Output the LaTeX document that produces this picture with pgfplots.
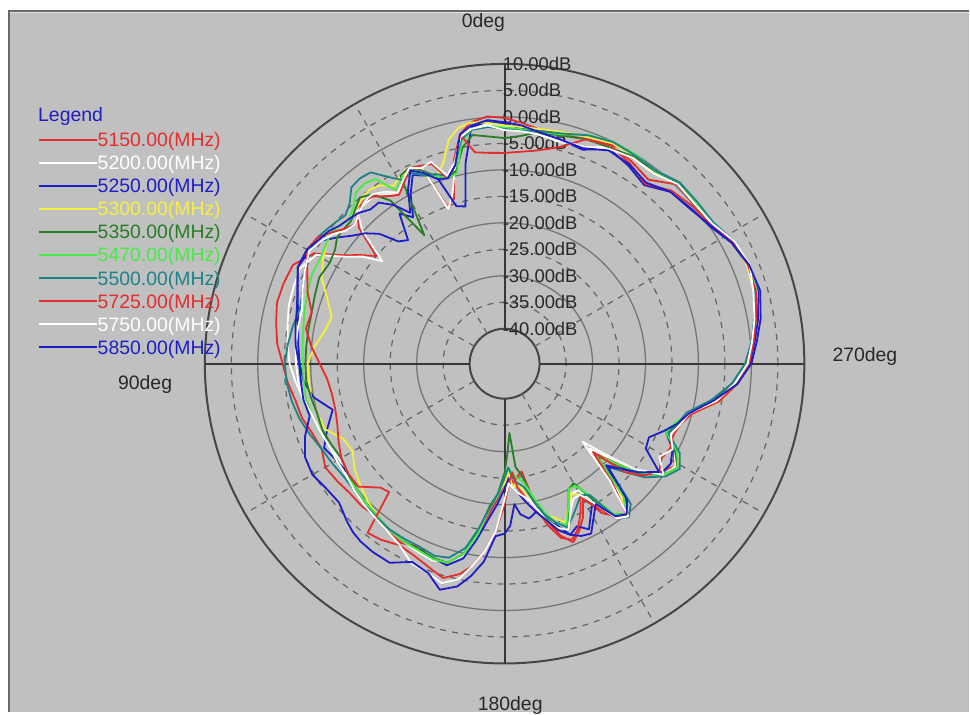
\documentclass[border=0pt]{standalone}
\usepackage{fontspec}
\setmainfont{Liberation Sans}
\usepackage{pgfplots}
\usepackage{pgfplotstable}
\pgfplotsset{compat=1.18}
\definecolor{cR}{RGB}{228,45,45}
\definecolor{cW}{RGB}{255,255,255}
\definecolor{cB}{RGB}{30,30,200}
\definecolor{cY}{RGB}{245,240,60}
\definecolor{cDG}{RGB}{40,125,40}
\definecolor{cG}{RGB}{70,235,70}
\definecolor{cT}{RGB}{30,130,135}
\definecolor{bg}{RGB}{192,192,192}
\definecolor{cRing}{RGB}{118,118,118}
\definecolor{cDash}{RGB}{100,100,100}
\definecolor{cOuter}{RGB}{70,70,70}
\definecolor{cAxis}{RGB}{55,55,55}
\definecolor{cTxt}{RGB}{40,40,40}
\definecolor{cLeg}{RGB}{30,30,190}
\definecolor{cFrameD}{RGB}{105,105,105}
\definecolor{cFrameL}{RGB}{228,228,228}

% angle (deg, counter-clockwise from top) and gain in dB for each frequency
\pgfplotstableread{
a   s1    s2    s3    s4    s5    s6    s7    s8    s9    s10
0   -0.2  -1.8  -1.3  -1.6  -4.0  -2.0  -2.3  -6.8  -2.5  -1.0
4    0.2  -1.2  -0.8  -1.0  -3.6  -1.5  -1.8  -6.7  -1.5  -0.5
8   -0.6  -1.5  -1.5  -0.6  -3.0  -2.0  -2.0  -6.3  -1.8  -1.2
11  -2.5  -3.0  -8.0  -1.2  -5.0  -4.0  -3.5  -2.5  -3.0  -2.5
14  -7.0  -8.0  -16.0 -3.0  -9.0  -9.5  -8.0  -8.0  -7.5  -8.0
17  -14.0 -13.0 -15.5 -7.0  -10.0 -10.0 -9.5  -10.0 -9.5  -10.0
20  -15.0 -15.5 -9.0  -9.0  -9.0  -9.0  -8.5  -6.5  -6.0  -9.5
23  -6.0  -6.0  -8.0  -8.0  -7.0  -8.0  -8.0  -6.0  -6.5  -7.5
26  -5.5  -5.5  -7.0  -6.0  -5.5  -6.0  -6.5  -5.5  -5.5  -6.0
29  -7.0  -7.0  -10.0 -6.0  -6.0  -6.5  -7.0  -7.5  -7.0  -9.0
32  -9.0  -9.0  -14.0 -7.0  -18.0 -8.0  -5.0  -9.0  -8.5  -13.0
35  -8.0  -7.5  -12.0 -5.5  -9.0  -4.0  -2.5  -8.0  -7.0  -10.0
38  -6.5  -6.5  -17.0 -5.0  -6.0  -3.5  -2.2  -6.5  -6.0  -8.0
41  -6.0  -6.5  -16.0 -5.5  -5.0  -3.8  -2.5  -6.0  -6.2  -8.0
44  -6.5  -6.5  -12.5 -6.0  -6.0  -5.5  -4.5  -7.0  -7.0  -7.0
47  -9.0  -10.0 -10.5 -6.5  -7.0  -6.5  -5.5  -8.0  -8.0  -6.5
50  -15.0 -16.5 -9.0  -6.0  -7.0  -6.0  -5.0  -7.0  -7.5  -6.0
53  -12.5 -13.0 -7.0  -5.5  -7.0  -5.5  -4.5  -5.5  -6.0  -5.0
56  -10.0 -10.5 -5.0  -6.0  -8.0  -6.0  -4.0  -4.0  -5.0  -4.5
60  -5.0  -5.5  -4.0  -7.0  -8.5  -6.5  -4.0  -3.5  -4.0  -3.5
65  -2.5  -4.0  -3.5  -8.5  -8.0  -6.5  -5.0  -5.5  -5.0  -3.5
70  -2.2  -4.2  -5.0  -11.0 -8.5  -7.0  -6.0  -7.0  -6.0  -5.0
75  -2.1  -4.4  -6.2  -12.8 -8.9  -7.5  -6.6  -8.9  -7.0  -6.0
80  -2.8  -5.0  -7.0  -12.0 -9.0  -8.0  -6.0  -8.5  -7.0  -6.5
85  -3.5  -5.5  -7.5  -10.5 -9.0  -8.3  -5.5  -10.0 -7.0  -7.0
90  -4.7  -6.0  -7.9  -9.4  -9.0  -8.5  -5.1  -11.7 -7.2  -7.8
95  -5.5  -7.0  -8.5  -9.5  -9.0  -8.5  -5.3  -13.0 -7.5  -8.0
100 -6.5  -8.0  -10.0 -9.5  -9.5  -8.5  -5.8  -13.5 -8.0  -8.0
105 -7.0  -9.0  -13.0 -10.0 -10.0 -9.0  -6.5  -13.5 -9.0  -8.5
110 -8.0  -9.5  -11.0 -10.5 -10.0 -9.5  -7.5  -13.0 -9.5  -6.5
115 -8.5  -10.0 -9.0  -13.0 -10.5 -10.0 -8.5  -12.0 -10.0 -5.0
120 -7.5  -10.5 -10.0 -13.5 -11.0 -10.0 -9.0  -11.0 -10.0 -4.7
125 -8.0  -10.0 -10.5 -12.0 -10.5 -10.0 -9.5  -10.5 -10.0 -5.5
130 -8.5  -10.0 -10.0 -11.0 -10.0 -10.0 -9.5  -10.5 -9.5  -5.8
135 -8.5  -9.5  -9.5  -10.0 -9.5  -9.5  -9.0  -13.5 -9.0  -4.5
138 -8.8  -9.3  -9.3  -9.5  -9.3  -9.3  -9.0  -14.0 -8.8  -3.8
141 -8.5  -9.0  -9.0  -9.0  -9.0  -9.0  -8.8  -5.5  -8.5  -3.4
145 -8.0  -8.5  -8.5  -8.5  -8.5  -8.5  -8.5  -6.0  -8.0  -3.2
150 -7.5  -8.0  -8.0  -8.0  -8.0  -8.0  -8.5  -7.0  -7.0  -3.2
155 -8.5  -7.5  -8.0  -7.8  -8.0  -7.8  -8.5  -6.5  -5.0  -5.3
160 -7.0  -7.0  -7.5  -7.5  -7.5  -7.3  -8.0  -5.5  -4.5  -4.5
164 -7.5  -7.5  -7.0  -7.5  -7.5  -7.5  -8.5  -4.5  -3.5  -2.2
168 -9.5  -9.5  -9.0  -10.0 -10.0 -10.0 -11.0 -6.0  -5.0  -3.6
171 -14.0 -14.0 -13.0 -14.0 -14.5 -14.0 -15.0 -8.0  -8.0  -6.0
174 -18.0 -19.0 -17.0 -19.0 -19.5 -19.0 -19.0 -11.0 -11.0 -9.0
177 -21.0 -22.0 -20.0 -22.0 -22.0 -21.5 -22.0 -15.0 -15.0 -14.0
180 -24.0 -25.0 -23.0 -24.0 -26.0 -25.0 -25.0 -20.0 -21.0 -14.5
182 -26.0 -27.0 -25.0 -26.0 -30.0 -27.0 -27.0 -24.0 -24.0 -16.0
184 -24.0 -25.0 -23.0 -23.0 -33.5 -26.0 -25.0 -26.0 -23.0 -20.0
186 -25.0 -24.0 -22.0 -24.0 -27.0 -25.0 -24.0 -23.0 -22.0 -18.0
189 -26.0 -22.0 -20.0 -22.0 -25.0 -24.0 -23.0 -21.0 -21.0 -17.0
192 -20.0 -19.0 -18.0 -20.0 -20.0 -21.0 -20.0 -19.0 -19.0 -18.0
195 -16.0 -16.5 -16.0 -17.0 -16.5 -17.5 -17.0 -15.0 -16.0 -16.0
198 -12.5 -15.0 -14.5 -16.0 -14.0 -15.0 -15.0 -12.0 -14.0 -13.5
201 -10.5 -13.5 -12.0 -14.5 -13.0 -14.0 -13.5 -11.0 -13.0 -12.0
204 -12.0 -16.0 -13.0 -17.0 -17.0 -17.0 -15.0 -12.5 -16.0 -11.0
207 -14.0 -19.0 -11.5 -19.0 -20.0 -20.0 -16.5 -15.0 -18.0 -10.6
210 -17.0 -19.0 -14.0 -18.0 -20.5 -20.0 -18.0 -18.0 -18.0 -13.0
213 -14.0 -16.0 -16.0 -15.0 -16.0 -17.0 -17.0 -13.0 -15.0 -15.0
216 -10.5 -11.0 -11.0 -11.0 -11.5 -11.5 -10.5 -11.0 -10.5 -11.0
219 -9.5  -9.5  -10.0 -9.8  -10.0 -10.0 -9.3  -10.0 -9.5  -10.0
222 -15.0 -15.0 -12.5 -14.0 -13.0 -13.0 -11.0 -16.0 -17.0 -12.0
225 -23.0 -24.0 -19.5 -22.0 -22.0 -22.5 -19.0 -23.0 -25.8 -19.0
228 -19.0 -20.0 -17.0 -18.0 -18.0 -18.5 -16.0 -16.0 -21.0 -17.0
231 -14.0 -15.0 -13.5 -13.5 -13.5 -14.0 -12.5 -13.0 -15.0 -14.0
235 -11.0 -10.0 -10.5 -10.0 -10.0 -10.0 -9.5  -11.0 -10.0 -11.0
239 -9.0  -9.0  -10.0 -8.5  -8.5  -8.5  -8.0  -12.0 -12.5 -15.5
243 -11.0 -10.5 -11.0 -10.0 -10.5 -10.0 -9.5  -11.5 -11.0 -16.0
247 -13.0 -13.5 -13.5 -13.5 -13.5 -13.5 -13.0 -12.0 -12.5 -14.0
251 -12.0 -12.5 -11.5 -12.0 -12.0 -12.5 -12.0 -11.5 -11.5 -12.0
255 -10.0 -10.5 -10.5 -10.0 -10.5 -10.5 -11.0 -10.0 -10.5 -10.5
260 -6.0  -6.5  -6.0  -5.5  -6.5  -6.0  -7.0  -5.5  -6.0  -6.5
265 -2.8  -3.0  -2.5  -2.5  -3.5  -3.0  -3.5  -2.5  -3.0  -2.5
270 -0.5  -0.8  -0.3  -0.5  -1.0  -0.8  -1.2  -0.4  -0.7  0.0
275 0.5   0.2   0.8   0.3   0.3   0.5   0.2   0.6   0.3   1.2
280 1.5   1.2   2.0   1.3   1.5   1.6   1.2   1.6   1.3   2.5
286 2.7   2.4   3.2   2.5   2.7   3.0   2.6   2.8   2.3   3.6
292 3.0   2.8   3.0   2.9   3.1   3.2   3.2   3.0   3.3   3.2
298 2.2   2.5   2.0   2.4   2.5   2.6   2.6   2.3   2.6   2.0
304 0.6   0.8   0.0   0.6   0.9   0.8   1.0   0.4   0.7   0.2
310 0.2   0.5   -0.8  0.4   0.6   0.7   0.9   -0.3  0.3   -1.0
316 0.4   0.8   -1.5  0.8   0.8   1.0   1.0   -1.2  0.5   -1.5
322 -2.5  -0.8  -3.8  -0.6  -0.5  -0.4  -0.3  -3.5  -1.0  -3.2
328 -1.5  -0.6  -2.5  -0.3  -0.5  0.0   -0.2  -2.0  -0.8  -2.2
334 -0.6  -1.0  -1.5  -0.3  -1.2  0.0   0.0   -0.8  -1.5  -1.8
340 -1.5  -3.2  -3.6  -1.0  -1.5  -0.6  -0.7  -1.5  -3.0  -3.3
346 -2.0  -3.5  -3.0  -1.5  -2.2  -2.0  -1.8  -4.5  -3.2  -3.0
352 -1.8  -2.8  -2.5  -1.8  -2.5  -2.3  -2.2  -6.0  -2.8  -2.3
356 -1.0  -2.3  -2.0  -1.8  -3.5  -2.2  -2.5  -6.5  -2.6  -1.5
360 -0.2  -1.8  -1.3  -1.6  -4.0  -2.0  -2.3  -6.8  -2.5  -1.0
}\pdata

\newcommand{\polplot}[3]{%
  \addplot[#1, line width=1.8bp, line join=round] table[x expr={505-(247+5.3*\thisrow{#2})*sin(\thisrow{a})},
                     y expr={-364+(247+5.3*\thisrow{#2})*cos(\thisrow{a})}] {\pdata};
  \addlegendentry{\textcolor{#1}{#3}}}

\begin{document}
\begin{tikzpicture}
\begin{axis}[
  width=970bp, height=713bp, scale only axis,
  xmin=0, xmax=970, ymin=-713, ymax=0,
  axis lines=none, clip=false, no markers,
  legend style={at={(axis cs:38,-128.2)}, anchor=north west, draw=none, fill=none,
    inner sep=0pt, outer sep=0pt, row sep=0pt,
    font=\fontsize{19.5}{23}\selectfont,
    nodes={inner sep=0pt, text height=18.5bp, text depth=4.6bp},
    cells={anchor=west}},
  legend image code/.code={\draw[#1, line width=1.8bp] (0bp,0bp) -- (58bp,0bp);},
]
% background and frame
\fill[white] (axis cs:0,0) rectangle (axis cs:970,-713);
\fill[bg] (axis cs:8,-10) rectangle (axis cs:970,-713);
\draw[cFrameD, line width=1.6bp] (axis cs:8.8,-713) -- (axis cs:8.8,-10.8) -- (axis cs:970,-10.8);
\draw[cFrameL, line width=1.2bp] (axis cs:10,-12.8) -- (axis cs:970,-12.8);
% rings
\draw[cOuter, line width=2bp] (axis cs:505,-364) circle[radius=300bp];
\draw[cDash, line width=1.2bp, dash pattern=on 6bp off 6bp] (axis cs:505,-364) circle[radius=273.5bp];
\draw[cRing, line width=1.3bp] (axis cs:505,-364) circle[radius=247bp];
\draw[cDash, line width=1.2bp, dash pattern=on 6bp off 6bp] (axis cs:505,-364) circle[radius=220.5bp];
\draw[cRing, line width=1.3bp] (axis cs:505,-364) circle[radius=194bp];
\draw[cDash, line width=1.2bp, dash pattern=on 6bp off 6bp] (axis cs:505,-364) circle[radius=167.5bp];
\draw[cRing, line width=1.3bp] (axis cs:505,-364) circle[radius=141bp];
\draw[cDash, line width=1.2bp, dash pattern=on 6bp off 6bp] (axis cs:505,-364) circle[radius=114.5bp];
\draw[cRing, line width=1.3bp] (axis cs:505,-364) circle[radius=88bp];
\draw[cDash, line width=1.2bp, dash pattern=on 6bp off 6bp] (axis cs:505,-364) circle[radius=61.5bp];
\draw[cOuter, line width=2bp] (axis cs:505,-364) circle[radius=35bp];
% spokes
\pgfplotsinvokeforeach{120,150,180,210,300,330,360,390}{
  \draw[cDash, line width=1.2bp, dash pattern=on 6bp off 6bp] (axis cs:505,-364) ++(#1:35bp) -- ++(#1:265bp);
}
% main axes
\draw[cAxis, line width=2bp] (axis cs:205,-364) -- (axis cs:470,-364);
\draw[cAxis, line width=2bp] (axis cs:540,-364) -- (axis cs:805,-364);
\draw[cAxis, line width=2bp] (axis cs:505,-63) -- (axis cs:505,-329);
\draw[cAxis, line width=2bp] (axis cs:505,-399) -- (axis cs:505,-665);
% dB labels
\begin{scope}[every node/.style={anchor=west, inner sep=0pt, text=cTxt, font=\fontsize{18.5}{20}\selectfont}]
\node at (axis cs:503,-64) {10.00dB};
\node at (axis cs:503,-90.5) {5.00dB};
\node at (axis cs:503,-117) {0.00dB};
\node at (axis cs:503,-143.5) {-5.00dB};
\node at (axis cs:503,-170) {-10.00dB};
\node at (axis cs:503,-196.5) {-15.00dB};
\node at (axis cs:503,-223) {-20.00dB};
\node at (axis cs:503,-249.5) {-25.00dB};
\node at (axis cs:503,-276) {-30.00dB};
\node at (axis cs:503,-302.5) {-35.00dB};
\node at (axis cs:503,-329) {-40.00dB};
\end{scope}
% direction labels
\begin{scope}[every node/.style={anchor=base west, inner sep=0pt, text=cTxt, font=\fontsize{19.5}{22}\selectfont}]
\node at (axis cs:462,-28) {0deg};
\node at (axis cs:118,-390) {90deg};
\node at (axis cs:833,-362) {270deg};
\node at (axis cs:478,-711) {180deg};
\node[text=cLeg] at (axis cs:38,-122) {Legend};
\end{scope}
% patterns
\polplot{cR}{s1}{5150.00(MHz)}
\polplot{cW}{s2}{5200.00(MHz)}
\polplot{cB}{s3}{5250.00(MHz)}
\polplot{cY}{s4}{5300.00(MHz)}
\polplot{cDG}{s5}{5350.00(MHz)}
\polplot{cG}{s6}{5470.00(MHz)}
\polplot{cT}{s7}{5500.00(MHz)}
\polplot{cR}{s8}{5725.00(MHz)}
\polplot{cW}{s9}{5750.00(MHz)}
\polplot{cB}{s10}{5850.00(MHz)}
\end{axis}
\end{tikzpicture}
\end{document}
